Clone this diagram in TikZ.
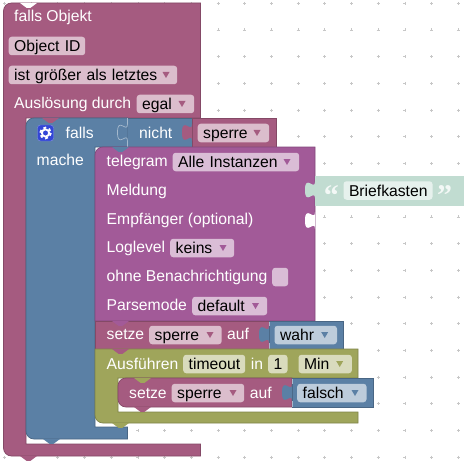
\documentclass[tikz,border=0pt]{standalone}
\usepackage{fontspec}
\setmainfont{Liberation Sans}
\newfontfamily\quotefont{Liberation Serif}
\definecolor{pinkb}{HTML}{A55B80}
\definecolor{pinkf}{HTML}{DBBDCC}
\definecolor{blueb}{HTML}{5B80A5}
\definecolor{bluef}{HTML}{BDCCDB}
\definecolor{purpb}{HTML}{A25A98}
\definecolor{purpf}{HTML}{DABDD6}
\definecolor{greenb}{HTML}{9FA55B}
\definecolor{greenf}{HTML}{D9DBBD}
\definecolor{mintb}{HTML}{C1DCD1}
\definecolor{mintf}{HTML}{E6F1ED}
\definecolor{cogb}{HTML}{3346D6}
\begin{document}
\begin{tikzpicture}[
    x=1pt, y=-1pt,
    every node/.style={font=\fontsize{15.7}{18}\selectfont},
    block/.style={fill=#1, draw=#1!80!black, line width=0.7},
    glow/.style={draw=#1!55!white, line width=0.7},
    lbl/.style={text=white, anchor=west, inner sep=0, text height=13, text depth=1.6},
    field/.style={rounded corners=3, anchor=west, inner xsep=5.5, inner ysep=0, minimum height=18.5,
        text height=13, text depth=1.6, text width=#1pt, align=left},
    quotes/.style={text=mintf!50!white, font=\quotefont\bfseries\fontsize{30}{30}\selectfont, inner sep=0},
    notch/.pic={\path[pic actions] (0,0) -- (6.5,4.8) -- (10.5,4.8) -- (17,0) -- cycle;},
    puzzle/.pic={\path[pic actions] (0,0) .. controls (0,10) and (-10,-8) .. (-10,8.5) .. controls (-10,25) and (0,7) .. (0,17);},
    drop/.pic={\path[pic actions] (-3.5,-3) -- (3.5,-3) -- (0,3) -- cycle;}
]
    \useasboundingbox[fill=white] (0,0) rectangle (470,465);

    % Workspace grid
    \foreach \i in {0,...,17}
        \foreach \j in {0,...,17}
            \draw[black!22, line width=0.7] (4.4+26.7*\i-1.5, 3.3+26.7*\j) -- ++(3,0) (4.4+26.7*\i, 3.3+26.7*\j-1.5) -- ++(0,3);

    % Outer trigger
    \draw[block=pinkb] (3.5,11) arc[start angle=180, end angle=270, radius=8] -- (200.5,3) -- (200.5,118) -- (26,118)
        -- (26,444) -- (200.5,444) -- (200.5,456) -- (11.5,456) arc[start angle=90, end angle=180, radius=8] -- cycle;
    \pic[fill=white] at (20,3) {notch};
    \node[lbl] (title) at (14,16) {falls Objekt};
    \node[field=65.5, fill=pinkf] (objid) at (8.5,46) {Object~ID};
    \node[field=157.5, fill=pinkf] (compare) at (8.5,75) {ist größer als letztes};
    \pic[fill=pinkb] at (166,75) {drop};
    \node[lbl] (trigger) at (14,103) {Auslösung durch};
    \node[field=46.5, fill=pinkf] (egal) at (136.5,104) {egal};
    \pic[fill=pinkb] at (182,104) {drop};

    % If block
    \draw[block=blueb] (26,126) arc[start angle=180, end angle=270, radius=8] -- (127.5,118) -- (127.5,147) -- (95,147)
        -- (95,427) -- (127.5,427) -- (127.5,439) -- (34,439) arc[start angle=90, end angle=180, radius=8] -- cycle;
    \pic[fill=pinkb] at (42,118) {notch};
    \node[draw=cogb!60!white, fill=cogb, rounded corners=3, minimum size=16, inner sep=0] (cog) at (45.5,133) {};
    \draw[white, line width=1.8] (cog.center) circle[radius=3.6];
    \draw[white, line width=1.8, dash pattern=on 2.9 off 2.75] (cog.center) circle[radius=5.4];
    \node[lbl] (falls) at (65.5,132.5) {falls};
    \node[lbl] (mache) at (36.5,160) {mache};

    % Not block
    \draw[block=blueb] (127.5,118) -- (192,118) -- (192,147) -- (127.5,147) -- cycle;
    \pic[fill=blueb, glow=blueb] at (127.5,124) {puzzle};
    \draw[glow=blueb] (127.5,118.5) -- (127.5,124) (127.5,141) -- (127.5,146.5);
    \node[lbl] (nicht) at (139,132.5) {nicht};

    % Lock variable
    \draw[block=pinkb] (192,118) -- (276,118) -- (276,147) -- (192,147) -- cycle;
    \pic[fill=pinkb] at (192,124) {puzzle};
    \node[field=60.5, fill=pinkf] (lock) at (197.5,133) {sperre};
    \pic[fill=pinkb] at (257,133) {drop};

    % Telegram block
    \draw[block=purpb] (95,155) arc[start angle=180, end angle=270, radius=8] -- (315,147) -- (315,321) -- (95,321) -- cycle;
    \pic[fill=blueb] at (112,147) {notch};
    \pic[fill=white] at (315,212) {puzzle};
    \node[lbl] (telegram) at (106.5,161) {telegram};
    \node[field=115.5, fill=purpf] (inst) at (172.5,162) {Alle Instanzen};
    \pic[fill=purpb] at (287,162) {drop};
    \node[lbl] (msg) at (106.5,190) {Meldung};
    \node[lbl] (recv) at (106.5,219) {Empfänger (optional)};
    \node[lbl] (loglevel) at (106.5,247) {Loglevel};
    \node[field=53, fill=purpf] (keins) at (170,248) {keins};
    \pic[fill=purpb] at (223,248) {drop};
    \node[lbl] (silent) at (106.5,276) {ohne Benachrichtigung};
    \node[field=5, fill=purpf] (check) at (272,277) {};
    \node[lbl] (parse) at (106.5,305) {Parsemode};
    \node[field=64, fill=purpf] (mode) at (192,306) {default};
    \pic[fill=purpb] at (255.5,306) {drop};

    % Text block
    \draw[block=mintb, draw=mintb] (315,176) -- (463,176) -- (463,205) -- (315,205) -- cycle;
    \pic[fill=mintb] at (315,181.5) {puzzle};
    \node[quotes] (open) at (331.4,196) {“};
    \node[field=78, fill=mintf] (msgtext) at (343.3,190.5) {Briefkasten};
    \node[quotes] (close) at (444.5,196) {”};

    % Set lock
    \draw[block=pinkb] (95,321) -- (269,321) -- (269,349) -- (95,349) -- cycle;
    \pic[fill=purpb] at (112,321) {notch};
    \node[lbl] (set) at (106.5,334) {setze};
    \node[field=61.5, fill=pinkf] (setvar) at (149,335) {sperre};
    \pic[fill=pinkb] at (210,335) {drop};
    \node[lbl] (to) at (227,334) {auf};
    \draw[block=blueb] (269,321) -- (343,321) -- (343,349) -- (269,349) -- cycle;
    \pic[fill=blueb] at (269,326) {puzzle};
    \draw[glow=blueb] (269,321.5) -- (269,326) (269,343) -- (269,348.5);
    \node[field=51.5, fill=bluef] (true) at (274.3,335) {wahr};
    \pic[fill=blueb] at (324.7,335) {drop};

    % Timeout block
    \draw[block=greenb] (95,349) -- (358,349) -- (358,378) -- (118,378) -- (118,412) -- (358,412) -- (358,423)
        -- (103,423) arc[start angle=90, end angle=180, radius=8] -- cycle;
    \pic[fill=pinkb] at (112,349) {notch};
    \pic[fill=greenb] at (112,423) {notch};
    \node[lbl] (run) at (106.5,363.3) {Ausführen};
    \node[field=51, fill=greenf] (timeout) at (183,364) {timeout};
    \node[lbl] (in) at (250.7,363.3) {in};
    \node[field=8.3, fill=greenf] (delay) at (268,364) {1};
    \node[field=42.4, fill=greenf] (unit) at (298.3,364) {Min};
    \pic[fill=greenb] at (339.7,364) {drop};

    % Reset lock
    \draw[block=pinkb] (118,386) arc[start angle=180, end angle=270, radius=8] -- (292,378) -- (292,407) -- (126,407)
        arc[start angle=90, end angle=180, radius=8] -- cycle;
    \pic[fill=greenb] at (134,378) {notch};
    \pic[fill=pinkb] at (134,407) {notch};
    \node[lbl] (reset) at (129,392.6) {setze};
    \node[field=61.5, fill=pinkf] (resetvar) at (171.5,393) {sperre};
    \pic[fill=pinkb] at (233,393) {drop};
    \node[lbl] (reto) at (249.7,392.6) {auf};
    \draw[block=blueb] (292,378) -- (373,378) -- (373,407) -- (292,407) -- cycle;
    \pic[fill=blueb] at (292,384) {puzzle};
    \draw[glow=blueb] (292,378.5) -- (292,384) (292,401) -- (292,406.5);
    \node[field=58.3, fill=bluef] (false) at (297,393) {falsch};
    \pic[fill=blueb] at (355,393) {drop};

    % Closing notches
    \pic[fill=blueb] at (43,439) {notch};
    \pic[fill=pinkb] at (20,456) {notch};
\end{tikzpicture}
\end{document}
